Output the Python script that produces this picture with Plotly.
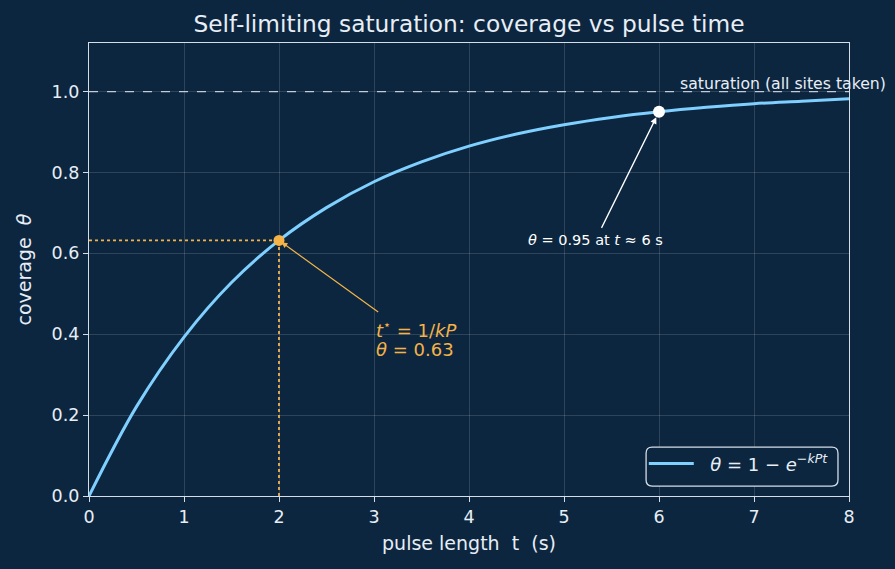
import plotly.graph_objects as go

# Data
t_vals = [0, 0.5, 1, 1.5, 2, 2.5, 3, 3.5, 4, 4.5, 5, 5.5, 6, 6.5, 7, 7.5, 8]
theta_vals = [0, 0.221, 0.393, 0.528, 0.632, 0.713, 0.777, 0.826, 0.865,
              0.895, 0.918, 0.936, 0.950, 0.961, 0.970, 0.976, 0.982]
x_ticks = [0, 1, 2, 3, 4, 5, 6, 7, 8]
y_ticks = [0.0, 0.2, 0.4, 0.6, 0.8, 1.0]
t_star = 2
theta_star = 0.632
t_95 = 6
theta_95 = 0.95
saturation = 1.0

BG = "#0c2640"
FG = "#e8eef5"
BLUE = "#7fcfff"
ORANGE = "#f5b347"
FONT = "DejaVu Sans"
NB = "\u00a0"

fig = go.Figure()

# saturation line
fig.add_trace(go.Scatter(x=[0, 8], y=[saturation, saturation], mode="lines",
                         line=dict(color="#c3ccd6", width=1.2, dash="dash"),
                         showlegend=False, hoverinfo="skip"))
# dotted guides
fig.add_trace(go.Scatter(x=[0, t_star], y=[theta_star, theta_star], mode="lines",
                         line=dict(color=ORANGE, width=1.8, dash="dot"),
                         showlegend=False, hoverinfo="skip"))
fig.add_trace(go.Scatter(x=[t_star, t_star], y=[0, theta_star], mode="lines",
                         line=dict(color=ORANGE, width=1.8, dash="dot"),
                         showlegend=False, hoverinfo="skip"))
# curve
fig.add_trace(go.Scatter(x=t_vals, y=theta_vals, mode="lines", line_shape="spline",
                         line=dict(color=BLUE, width=3),
                         name=f"{NB}{NB}<i>θ</i> = 1 − <i>e</i><sup>−<i>kPt</i></sup>"))
# markers
fig.add_trace(go.Scatter(x=[t_star], y=[theta_star], mode="markers",
                         marker=dict(color=ORANGE, size=11), showlegend=False))
fig.add_trace(go.Scatter(x=[t_95], y=[theta_95], mode="markers",
                         marker=dict(color="white", size=12), showlegend=False))

# annotations
fig.add_annotation(x=t_star, y=theta_star, ax=3.06, ay=0.452, xref="x", yref="y",
                   axref="x", ayref="y", text="", showarrow=True, arrowhead=2,
                   arrowsize=1, arrowwidth=1.2, arrowcolor=ORANGE, standoff=3)
fig.add_annotation(x=3.0, y=0.412, xref="x", yref="y", xanchor="left", yanchor="middle",
                   text="<i>t</i><sup>⋆</sup> = 1/<i>kP</i>",
                   showarrow=False, font=dict(color=ORANGE, size=18, family=FONT))
fig.add_annotation(x=3.0, y=0.362, xref="x", yref="y", xanchor="left", yanchor="middle",
                   text="<i>θ</i> = 0.63",
                   showarrow=False, font=dict(color=ORANGE, size=18, family=FONT))
fig.add_annotation(x=t_95, y=theta_95, ax=5.33, ay=0.632, xref="x", yref="y",
                   axref="x", ayref="y",
                   text="<i>θ</i> = 0.95 at <i>t</i> ≈ 6 s", showarrow=True,
                   arrowhead=2, arrowsize=1, arrowwidth=1.3, arrowcolor="white",
                   standoff=6, borderpad=4,
                   font=dict(color="white", size=14.5, family=FONT))
fig.add_annotation(x=6.2, y=1.02, xref="x", yref="y", xanchor="left", yanchor="middle",
                   text="saturation (all sites taken)", showarrow=False,
                   font=dict(color=FG, size=15.7, family=FONT))

# rounded legend frame
x0, x1, y0, y1, r = 0.733, 0.9855, 0.022, 0.108, 0.008
ry = r * 760 / 453
path = (f"M {x0+r},{y0} L {x1-r},{y0} Q {x1},{y0} {x1},{y0+ry} L {x1},{y1-ry} "
        f"Q {x1},{y1} {x1-r},{y1} L {x0+r},{y1} Q {x0},{y1} {x0},{y1-ry} "
        f"L {x0},{y0+ry} Q {x0},{y0} {x0+r},{y0} Z")
fig.add_shape(type="path", path=path, xref="paper", yref="paper",
              line=dict(color="#d5dde6", width=1.3), fillcolor=BG, layer="above")

axis_common = dict(showline=True, linecolor="#d5dde6", linewidth=1.3, mirror=True,
                   ticks="outside", ticklen=5, tickcolor="#d5dde6",
                   gridcolor="rgba(255,255,255,0.14)", gridwidth=1,
                   zeroline=False, tickfont=dict(size=17.5, color=FG, family=FONT))

fig.update_layout(
    width=895, height=569, paper_bgcolor=BG, plot_bgcolor=BG,
    margin=dict(l=89, r=46, t=43, b=73),
    title=dict(text="Self-limiting saturation: coverage vs pulse time",
               xref="paper", x=0.5, xanchor="center",
               yref="container", y=1 - 24 / 569, yanchor="middle",
               font=dict(size=23.3, color=FG, family=FONT)),
    xaxis=dict(range=[0, 8], tickvals=x_ticks,
               title=dict(text=f"pulse length{NB}{NB}t{NB}{NB}(s)",
                          font=dict(size=19, color=FG, family=FONT), standoff=10),
               **axis_common),
    yaxis=dict(range=[0, 1.12], tickvals=y_ticks, tickformat=".1f",
               title=dict(text=f"coverage{NB}{NB}<i>θ</i>",
                          font=dict(size=19, color=FG, family=FONT), standoff=14),
               **axis_common),
    legend=dict(x=0.98, y=0.03, xanchor="right", yanchor="bottom",
                bgcolor="rgba(0,0,0,0)", borderwidth=0, itemwidth=45,
                font=dict(size=18, color=FG, family=FONT)),
    font=dict(family=FONT, color=FG),
)

fig.write_html("out.html")
